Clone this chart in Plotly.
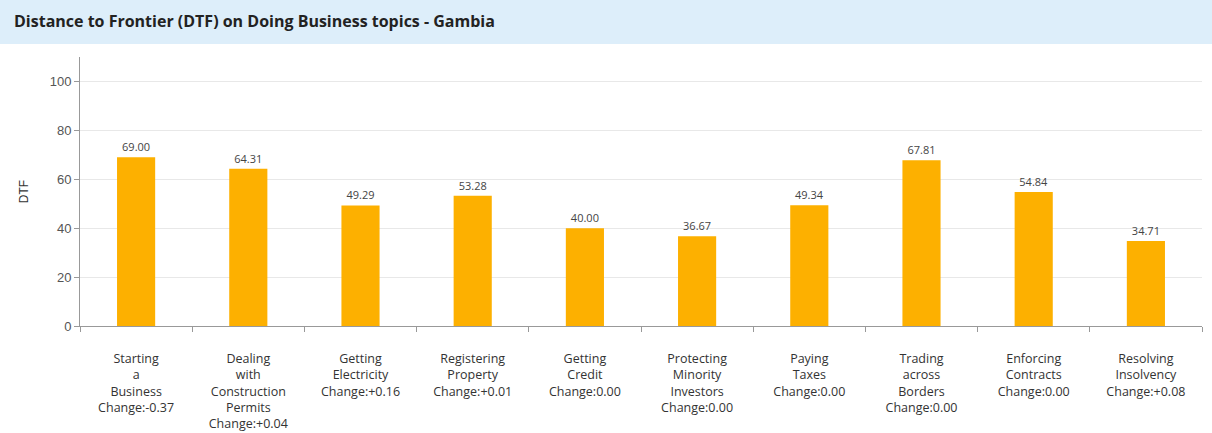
import plotly.graph_objects as go

categories = [
    "Starting<br>a<br>Business<br>Change:-0.37",
    "Dealing<br>with<br>Construction<br>Permits<br>Change:+0.04",
    "Getting<br>Electricity<br>Change:+0.16",
    "Registering<br>Property<br>Change:+0.01",
    "Getting<br>Credit<br>Change:0.00",
    "Protecting<br>Minority<br>Investors<br>Change:0.00",
    "Paying<br>Taxes<br>Change:0.00",
    "Trading<br>across<br>Borders<br>Change:0.00",
    "Enforcing<br>Contracts<br>Change:0.00",
    "Resolving<br>Insolvency<br>Change:+0.08",
]
dtf_values = [69.00, 64.31, 49.29, 53.28, 40.00, 36.67, 49.34, 67.81, 54.84, 34.71]
y_ticks = [0, 20, 40, 60, 80, 100]

W, H = 1212, 433
ML, MR, MT, MB = 80, 10, 57, 107
pw, ph = W - ML - MR, H - MT - MB

def px_x(x):
    return (x - ML) / pw

def px_y(y):
    return (H - MB - y) / ph

fig = go.Figure(go.Bar(
    x=categories,
    y=dtf_values,
    marker=dict(color="#FDB000", line=dict(width=0)),
    text=[f"{v:.2f}" for v in dtf_values],
    textposition="outside",
    textfont=dict(family="Open Sans", size=11, color="#444"),
    cliponaxis=False,
    width=0.34,
))

fig.update_layout(
    width=W, height=H,
    margin=dict(l=ML, r=MR, t=MT, b=MB),
    paper_bgcolor="white",
    plot_bgcolor="white",
    showlegend=False,
    font=dict(family="Open Sans", color="#333"),
    shapes=[dict(
        type="rect", xref="paper", yref="paper",
        x0=px_x(0), x1=px_x(W), y0=px_y(44), y1=px_y(0),
        fillcolor="#DDEEFA", line=dict(width=0), layer="below",
    )],
    annotations=[dict(
        text="<b>Distance to Frontier (DTF) on Doing Business topics - Gambia</b>",
        xref="paper", yref="paper", x=px_x(12), y=px_y(21),
        xanchor="left", yanchor="middle", showarrow=False,
        font=dict(family="Open Sans", size=16, color="#222"),
    )],
)

fig.update_xaxes(
    showline=True, linecolor="#999", linewidth=1,
    ticks="outside", tickson="boundaries", ticklen=5, tickcolor="#999",
    tickfont=dict(family="Open Sans", size=12.5, color="#333"),
    ticklabelstandoff=21,
    automargin=False,
    showgrid=False,
)
fig.update_yaxes(
    range=[0, 110],
    tickvals=y_ticks,
    showline=True, linecolor="#999", linewidth=1,
    ticks="outside", ticklen=5, tickcolor="#999",
    tickfont=dict(family="Liberation Sans", size=13, color="#555"),
    gridcolor="#E8E8E8", zeroline=False,
    automargin=False,
    title=dict(text="DTF", font=dict(family="Liberation Sans", size=12, color="#333"), standoff=18),
)

fig.write_html("out.html")
